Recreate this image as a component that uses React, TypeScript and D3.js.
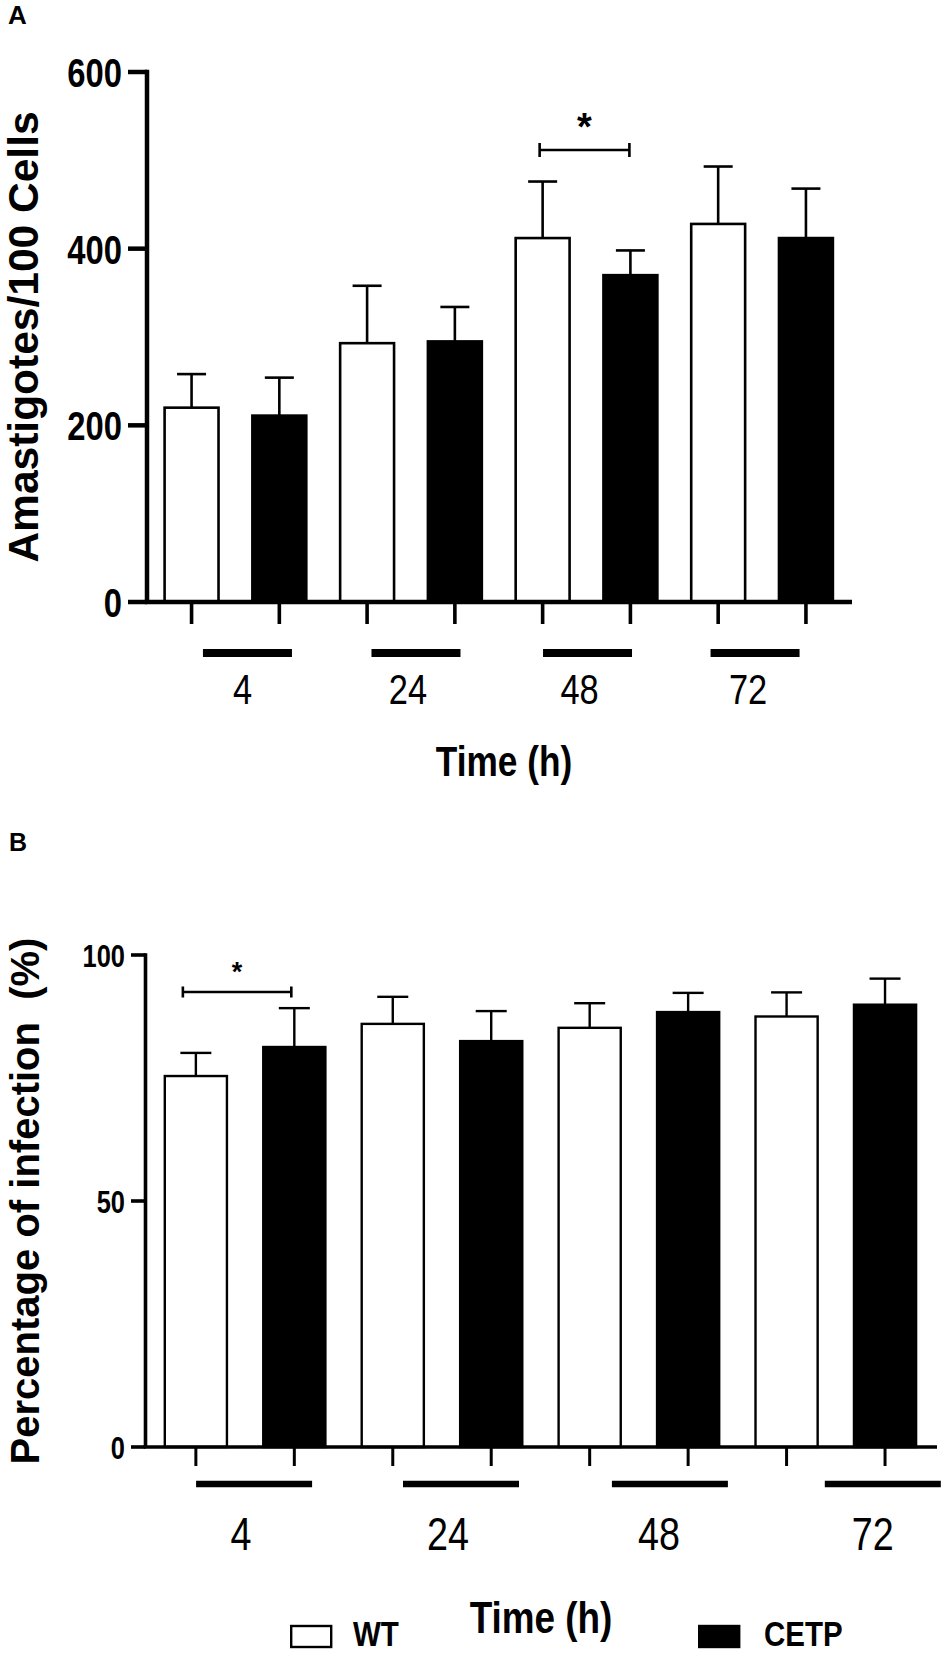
import * as d3 from "d3";

// time points and groups
const timeLabels = ["4", "24", "48", "72"];
const groups = ["WT", "CETP"];

// panel A: amastigotes / 100 cells (mean, upper SD)
const amastWT = [220, 293, 412, 428];
const amastWTErr = [38, 65, 64, 65];
const amastCETP = [211, 295, 370, 412];
const amastCETPErr = [43, 39, 28, 56];
const amastTicks = [0, 200, 400, 600];

// panel B: percentage of infection
const infWT = [75.4, 86, 85.2, 87.5];
const infWTErr = [4.7, 5.5, 5.0, 4.9];
const infCETP = [81.3, 82.5, 88.4, 89.9];
const infCETPErr = [7.9, 6.1, 3.9, 5.3];
const infTicks = [0, 50, 100];

const FONT = "'Liberation Sans', Arial, Helvetica, sans-serif";
const NARROW = 0.82;

type Layout = {
  letter: string;
  letterX: number;
  letterY: number;
  letterSize: number;
  ylabel: string;
  ylabelX: number;
  ylabelSize: number;
  yMax: number;
  ticks: number[];
  axisX: number;
  yTop: number;
  yBase: number;
  xEnd: number;
  barL: number;
  barR: number;
  padInner: number;
  axisW: number;
  barStroke: number;
  capW: number;
  yTickX0: number;
  tickLabelX: number;
  tickLabelSize: number;
  tickLabelDy: number;
  xTickLen: number;
  xTickW: number;
  lineY: number;
  lineH: number;
  lineW: number;
  lineShift: number[];
  labelShift: number[];
  labelY: number;
  labelSize: number;
  titleX: number;
  titleY: number;
  titleSize: number;
  sigGroup: number;
  sigY: number;
  sigCap: number;
  sigX0: number;
  sigX1: number;
  starY: number;
  starSize: number;
};

const layoutA: Layout = {
  letter: "A",
  letterX: 8,
  letterY: 24,
  letterSize: 26,
  ylabel: "Amastigotes/100 Cells",
  ylabelX: 38,
  ylabelSize: 42.5,
  yMax: 600,
  ticks: amastTicks,
  axisX: 147,
  yTop: 72,
  yBase: 602,
  xEnd: 852,
  barL: 163.3,
  barR: 834.2,
  padInner: 0.356,
  axisW: 4.5,
  barStroke: 2.6,
  capW: 29,
  yTickX0: 128,
  tickLabelX: 122,
  tickLabelSize: 40,
  tickLabelDy: 15,
  xTickLen: 22,
  xTickW: 3.6,
  lineY: 653,
  lineH: 8,
  lineW: 89,
  lineShift: [12, 5, 1, -7],
  labelShift: [7, -3, -7, -14],
  labelY: 704,
  labelSize: 42,
  titleX: 504,
  titleY: 776,
  titleSize: 43,
  sigGroup: 2,
  sigY: 150,
  sigCap: 7,
  sigX0: -3,
  sigX1: -1,
  starY: 140,
  starSize: 38,
};

const layoutB: Layout = {
  letter: "B",
  letterX: 9,
  letterY: 851,
  letterSize: 25,
  ylabel: "Percentage of infection  (%)",
  ylabelX: 39,
  ylabelSize: 40,
  yMax: 100,
  ticks: infTicks,
  axisX: 145.5,
  yTop: 955,
  yBase: 1447,
  xEnd: 937,
  barL: 163.6,
  barR: 917.3,
  padInner: 0.3445,
  axisW: 3.6,
  barStroke: 2.4,
  capW: 31,
  yTickX0: 131,
  tickLabelX: 125,
  tickLabelSize: 31,
  tickLabelDy: 12,
  xTickLen: 19,
  xTickW: 3,
  lineY: 1484,
  lineH: 6.5,
  lineW: 116,
  lineShift: [9, 19, 31, 47],
  labelShift: [-4, 6, 20, 37],
  labelY: 1550,
  labelSize: 46,
  titleX: 541,
  titleY: 1633,
  titleSize: 45,
  sigGroup: 0,
  sigY: 992,
  sigCap: 5.5,
  sigX0: -13,
  sigX1: -3,
  starY: 981,
  starSize: 27,
};

function NText(props: {
  x: number;
  y: number;
  size: number;
  bold?: boolean;
  anchor?: string;
  children: string;
}) {
  return (
    <text
      transform={`translate(${props.x},${props.y}) scale(${NARROW},1)`}
      fontFamily={FONT}
      fontSize={props.size}
      fontWeight={props.bold ? 700 : 400}
      textAnchor={props.anchor || "start"}
      fill="#000"
    >
      {props.children}
    </text>
  );
}

function Panel({
  L,
  wt,
  wtErr,
  cetp,
  cetpErr,
}: {
  L: Layout;
  wt: number[];
  wtErr: number[];
  cetp: number[];
  cetpErr: number[];
}) {
  const keys = timeLabels.flatMap((t) => groups.map((g) => `${t}-${g}`));
  const x = d3
    .scaleBand<string>()
    .domain(keys)
    .range([L.barL, L.barR])
    .paddingInner(L.padInner)
    .paddingOuter(0);
  const y = d3.scaleLinear().domain([0, L.yMax]).range([L.yBase, L.yTop]);
  const bw = x.bandwidth();

  const bars = timeLabels.flatMap((t, i) => [
    { key: `${t}-WT`, v: wt[i], e: wtErr[i], fill: "#fff" },
    { key: `${t}-CETP`, v: cetp[i], e: cetpErr[i], fill: "#000" },
  ]);

  const center = (k: string) => (x(k) as number) + bw / 2;
  const groupCenter = (i: number) =>
    (center(`${timeLabels[i]}-WT`) + center(`${timeLabels[i]}-CETP`)) / 2;

  const sigA = center(`${timeLabels[L.sigGroup]}-WT`) + L.sigX0;
  const sigB = center(`${timeLabels[L.sigGroup]}-CETP`) + L.sigX1;
  const yMid = (L.yTop + L.yBase) / 2;

  return (
    <g>
      <text
        x={L.letterX}
        y={L.letterY}
        fontFamily={FONT}
        fontWeight={700}
        fontSize={L.letterSize}
      >
        {L.letter}
      </text>

      <text
        transform={`translate(${L.ylabelX},${yMid}) rotate(-90)`}
        textAnchor="middle"
        fontFamily={FONT}
        fontWeight={700}
        fontSize={L.ylabelSize}
        style={{ whiteSpace: "pre" }}
      >
        {L.ylabel}
      </text>

      {/* bars */}
      {bars.map((b) => (
        <g key={b.key}>
          <line
            x1={center(b.key)}
            x2={center(b.key)}
            y1={y(b.v)}
            y2={y(b.v + b.e)}
            stroke="#000"
            strokeWidth={L.barStroke}
          />
          <line
            x1={center(b.key) - L.capW / 2}
            x2={center(b.key) + L.capW / 2}
            y1={y(b.v + b.e)}
            y2={y(b.v + b.e)}
            stroke="#000"
            strokeWidth={L.barStroke}
          />
          <rect
            x={(x(b.key) as number) + L.barStroke / 2}
            y={y(b.v)}
            width={bw - L.barStroke}
            height={y(0) - y(b.v)}
            fill={b.fill}
            stroke="#000"
            strokeWidth={L.barStroke}
          />
        </g>
      ))}

      {/* y axis */}
      <line
        x1={L.axisX}
        x2={L.axisX}
        y1={y(L.yMax) - L.axisW / 2}
        y2={y(0)}
        stroke="#000"
        strokeWidth={L.axisW}
      />
      {L.ticks.map((t) => (
        <g key={t}>
          <line
            x1={L.yTickX0}
            x2={L.axisX}
            y1={y(t)}
            y2={y(t)}
            stroke="#000"
            strokeWidth={L.axisW}
          />
          <NText
            x={L.tickLabelX}
            y={y(t) + L.tickLabelDy}
            size={L.tickLabelSize}
            bold
            anchor="end"
          >
            {String(t)}
          </NText>
        </g>
      ))}

      {/* x axis */}
      <line
        x1={L.axisX - L.axisW / 2}
        x2={L.xEnd}
        y1={y(0)}
        y2={y(0)}
        stroke="#000"
        strokeWidth={L.axisW}
      />
      {keys.map((k) => (
        <line
          key={k}
          x1={center(k)}
          x2={center(k)}
          y1={y(0)}
          y2={y(0) + L.xTickLen}
          stroke="#000"
          strokeWidth={L.xTickW}
        />
      ))}

      {/* group underlines and time labels */}
      {timeLabels.map((t, i) => (
        <g key={t}>
          <rect
            x={groupCenter(i) + L.lineShift[i] - L.lineW / 2}
            y={L.lineY - L.lineH / 2}
            width={L.lineW}
            height={L.lineH}
            fill="#000"
          />
          <NText
            x={groupCenter(i) + L.labelShift[i]}
            y={L.labelY}
            size={L.labelSize}
            anchor="middle"
          >
            {t}
          </NText>
        </g>
      ))}

      <NText x={L.titleX} y={L.titleY} size={L.titleSize} bold anchor="middle">
        Time (h)
      </NText>

      {/* significance */}
      <path
        d={`M${sigA},${L.sigY - L.sigCap}V${L.sigY + L.sigCap}M${sigA},${L.sigY}H${sigB}M${sigB},${
          L.sigY - L.sigCap
        }V${L.sigY + L.sigCap}`}
        fill="none"
        stroke="#000"
        strokeWidth={2.6}
      />
      <text
        x={(sigA + sigB) / 2}
        y={L.starY}
        textAnchor="middle"
        fontFamily={FONT}
        fontWeight={700}
        fontSize={L.starSize}
      >
        *
      </text>
    </g>
  );
}

export default function App() {
  const legend = [
    { name: groups[0], fill: "#fff", box: 290, text: 353 },
    { name: groups[1], fill: "#000", box: 698, text: 764 },
  ];
  return (
    <svg
      width={945}
      height={1655}
      viewBox="0 0 945 1655"
      style={{ position: "absolute", left: 0, top: 0, background: "#fff" }}
    >
      <rect width={945} height={1655} fill="#fff" />
      <Panel
        L={layoutA}
        wt={amastWT}
        wtErr={amastWTErr}
        cetp={amastCETP}
        cetpErr={amastCETPErr}
      />
      <Panel
        L={layoutB}
        wt={infWT}
        wtErr={infWTErr}
        cetp={infCETP}
        cetpErr={infCETPErr}
      />
      {legend.map((l) => (
        <g key={l.name}>
          <rect
            x={l.box + 1.2}
            y={1626}
            width={40}
            height={21}
            fill={l.fill}
            stroke="#000"
            strokeWidth={2.4}
          />
          <NText x={l.text} y={1646} size={36} bold>
            {l.name}
          </NText>
        </g>
      ))}
    </svg>
  );
}
